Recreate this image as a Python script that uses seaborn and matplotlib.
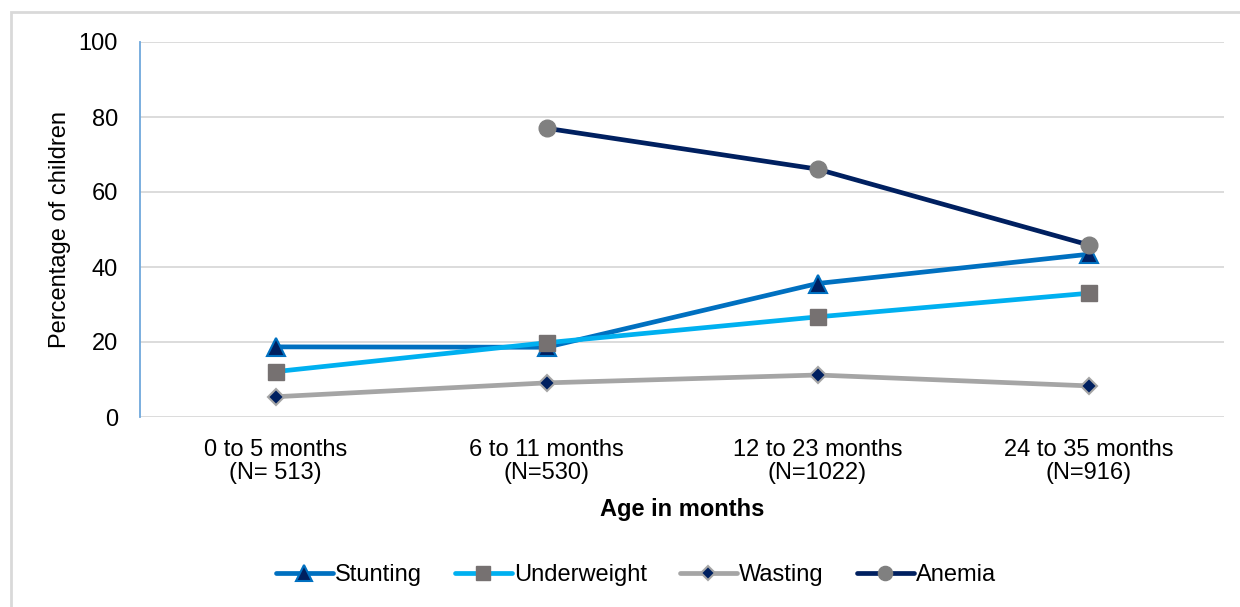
import matplotlib
matplotlib.use("Agg")
import matplotlib.pyplot as plt
import seaborn as sns
import pandas as pd
import numpy as np
from matplotlib.patches import Rectangle

# Age groups and sample sizes
age_groups = ["0 to 5 months\n(N= 513)", "6 to 11 months\n(N=530)",
              "12 to 23 months\n(N=1022)", "24 to 35 months\n(N=916)"]

# Prevalence (% of children) by age group
stunting = [18.7, 18.6, 35.6, 43.4]
underweight = [12.1, 19.8, 26.7, 33.0]
wasting = [5.4, 9.1, 11.2, 8.3]
anemia = [np.nan, 77.0, 66.1, 45.9]

series_names = ["Stunting", "Underweight", "Wasting", "Anemia"]
y_ticks = [0, 20, 40, 60, 80, 100]

frames = []
for name, vals in zip(series_names, [stunting, underweight, wasting, anemia]):
    frames.append(pd.DataFrame({"age": age_groups, "pct": vals, "indicator": name}))
df = pd.concat(frames, ignore_index=True)

styles = {
    "Stunting":    dict(color="#0070C0", marker="^", mfc="#002060", mec="#0070C0", ms=13, mew=1.5),
    "Underweight": dict(color="#00B0F0", marker="s", mfc="#767171", mec="#767171", ms=12, mew=1.0),
    "Wasting":     dict(color="#A5A5A5", marker="D", mfc="#002060", mec="#A5A5A5", ms=8,  mew=1.5),
    "Anemia":      dict(color="#002060", marker="o", mfc="#808080", mec="#808080", ms=12, mew=1.0),
}

sns.set_theme(style="white")
plt.rcParams["font.family"] = ["Liberation Sans", "DejaVu Sans"]
plt.rcParams["text.color"] = "black"
plt.rcParams["axes.labelcolor"] = "black"

fig = plt.figure(figsize=(12.4, 6.07), dpi=100)
ax = fig.add_axes([140 / 1240, 1 - 417 / 607, (1224 - 140) / 1240, (417 - 42) / 607])

for name in series_names:
    st = styles[name]
    sub = df[df["indicator"] == name].dropna()
    sns.lineplot(data=sub, x="age", y="pct", ax=ax, color=st["color"], linewidth=3.4,
                 marker=st["marker"], markersize=st["ms"], markerfacecolor=st["mfc"],
                 markeredgecolor=st["mec"], markeredgewidth=st["mew"], label=name,
                 sort=False, legend=False, zorder=3)

ax.set_xlim(-0.5, 3.5)
ax.set_ylim(0, 100)
ax.set_xticks(range(len(age_groups)))
ax.set_xticklabels(age_groups, fontsize=17, linespacing=1.05)
ax.set_yticks(y_ticks)
ax.set_yticklabels([str(t) for t in y_ticks], fontsize=17)
ax.tick_params(axis="x", length=0, pad=16, colors="black")
ax.tick_params(axis="y", length=0, pad=16, colors="black")

ax.grid(axis="y", color="#D9D9D9", linewidth=1.3)
ax.grid(axis="x", visible=False)
ax.set_axisbelow(True)
for side in ["top", "right", "bottom"]:
    ax.spines[side].set_visible(False)
ax.spines["left"].set_color("#6FA8DC")
ax.spines["left"].set_linewidth(1.3)

ax.set_xlabel("Age in months", fontsize=17, fontweight="bold", labelpad=10)
ax.set_ylabel("Percentage of children", fontsize=17, labelpad=5)

handles = ax.get_lines()[:len(series_names)]
fig.legend(handles, series_names, loc="center", bbox_to_anchor=(636 / 1240, 1 - 575 / 607),
           ncol=4, frameon=False, fontsize=17, handlelength=2.4, handletextpad=0.1,
           columnspacing=1.4, markerscale=0.85)

# outer chart frame
fig.patches.append(Rectangle((11 / 1240, -0.01), 1.02, 1 - 12 / 607 + 0.01,
                             transform=fig.transFigure, fill=False,
                             edgecolor="#D9D9D9", linewidth=2))

fig.savefig("out.png", dpi=100, facecolor="white")
